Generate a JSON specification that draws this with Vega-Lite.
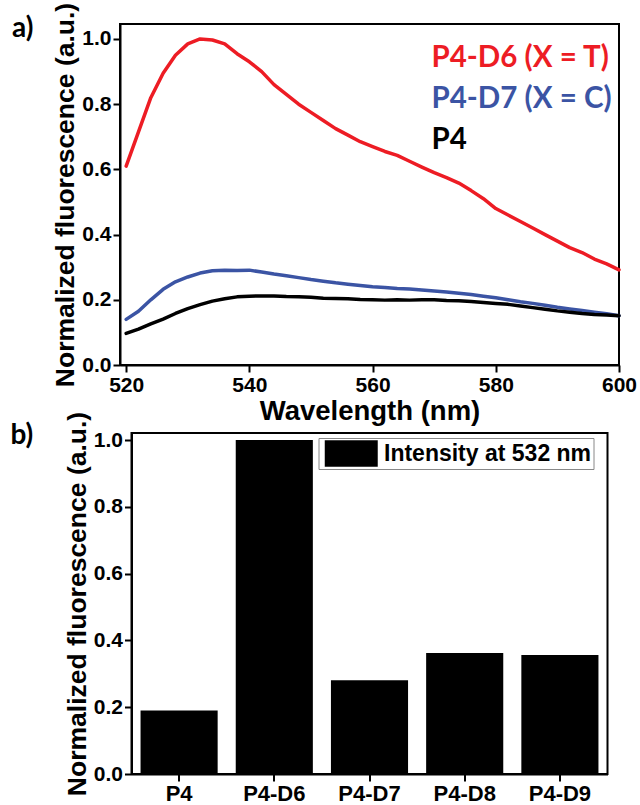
{
  "$schema": "https://vega.github.io/schema/vega-lite/v6.json",
  "padding": {"left": 9, "top": 1, "right": 5, "bottom": 0},
  "spacing": 68,
  "bounds": "flush",
  "center": true,
  "resolve": {"scale": {"color": "independent", "fill": "independent"}, "legend": {"color": "independent", "fill": "independent"}},
  "config": {
    "font": "Liberation Sans",
    "view": {"stroke": "black", "strokeWidth": 2},
    "axis": {
      "grid": false,
      "labelFont": "Liberation Sans",
      "labelFontSize": 21,
      "labelFontWeight": "bold",
      "labelColor": "black",
      "titleFont": "Liberation Sans",
      "titleFontSize": 26.5,
      "titleFontWeight": "bold",
      "titleColor": "black",
      "domainColor": "black",
      "domainWidth": 2,
      "tickColor": "black",
      "tickWidth": 2,
      "tickSize": 7,
      "labelPadding": 2
    }
  },
  "vconcat": [
    {
      "width": 499,
      "height": 341,
      "title": {"text": "a)", "anchor": "start", "frame": "group", "font": "Lato", "fontSize": 28, "fontWeight": "bold", "color": "black", "dx": -108, "offset": -63, "baseline": "alphabetic"},
      "data": {"values": [
        {"w": 520, "P4-D6 (X = T)": 0.61, "P4-D7 (X = C)": 0.14, "P4": 0.097},
        {"w": 522, "P4-D6 (X = T)": 0.715, "P4-D7 (X = C)": 0.165, "P4": 0.11},
        {"w": 524, "P4-D6 (X = T)": 0.82, "P4-D7 (X = C)": 0.2, "P4": 0.126},
        {"w": 526, "P4-D6 (X = T)": 0.895, "P4-D7 (X = C)": 0.232, "P4": 0.141},
        {"w": 528, "P4-D6 (X = T)": 0.95, "P4-D7 (X = C)": 0.255, "P4": 0.158},
        {"w": 530, "P4-D6 (X = T)": 0.985, "P4-D7 (X = C)": 0.27, "P4": 0.173},
        {"w": 532, "P4-D6 (X = T)": 1.0, "P4-D7 (X = C)": 0.282, "P4": 0.185},
        {"w": 534, "P4-D6 (X = T)": 0.997, "P4-D7 (X = C)": 0.289, "P4": 0.196},
        {"w": 536, "P4-D6 (X = T)": 0.985, "P4-D7 (X = C)": 0.291, "P4": 0.203},
        {"w": 538, "P4-D6 (X = T)": 0.955, "P4-D7 (X = C)": 0.29, "P4": 0.209},
        {"w": 540, "P4-D6 (X = T)": 0.93, "P4-D7 (X = C)": 0.291, "P4": 0.211},
        {"w": 542, "P4-D6 (X = T)": 0.9, "P4-D7 (X = C)": 0.285, "P4": 0.212},
        {"w": 544, "P4-D6 (X = T)": 0.86, "P4-D7 (X = C)": 0.279, "P4": 0.212},
        {"w": 546, "P4-D6 (X = T)": 0.83, "P4-D7 (X = C)": 0.274, "P4": 0.21},
        {"w": 548, "P4-D6 (X = T)": 0.8, "P4-D7 (X = C)": 0.268, "P4": 0.209},
        {"w": 550, "P4-D6 (X = T)": 0.775, "P4-D7 (X = C)": 0.262, "P4": 0.208},
        {"w": 552, "P4-D6 (X = T)": 0.75, "P4-D7 (X = C)": 0.257, "P4": 0.205},
        {"w": 554, "P4-D6 (X = T)": 0.725, "P4-D7 (X = C)": 0.252, "P4": 0.204},
        {"w": 556, "P4-D6 (X = T)": 0.705, "P4-D7 (X = C)": 0.248, "P4": 0.203},
        {"w": 558, "P4-D6 (X = T)": 0.685, "P4-D7 (X = C)": 0.244, "P4": 0.201},
        {"w": 560, "P4-D6 (X = T)": 0.67, "P4-D7 (X = C)": 0.24, "P4": 0.2},
        {"w": 562, "P4-D6 (X = T)": 0.655, "P4-D7 (X = C)": 0.238, "P4": 0.199},
        {"w": 564, "P4-D6 (X = T)": 0.643, "P4-D7 (X = C)": 0.235, "P4": 0.2},
        {"w": 566, "P4-D6 (X = T)": 0.625, "P4-D7 (X = C)": 0.233, "P4": 0.199},
        {"w": 568, "P4-D6 (X = T)": 0.607, "P4-D7 (X = C)": 0.23, "P4": 0.2},
        {"w": 570, "P4-D6 (X = T)": 0.59, "P4-D7 (X = C)": 0.227, "P4": 0.2},
        {"w": 572, "P4-D6 (X = T)": 0.575, "P4-D7 (X = C)": 0.224, "P4": 0.198},
        {"w": 574, "P4-D6 (X = T)": 0.558, "P4-D7 (X = C)": 0.22, "P4": 0.197},
        {"w": 576, "P4-D6 (X = T)": 0.535, "P4-D7 (X = C)": 0.216, "P4": 0.195},
        {"w": 578, "P4-D6 (X = T)": 0.51, "P4-D7 (X = C)": 0.211, "P4": 0.192},
        {"w": 580, "P4-D6 (X = T)": 0.48, "P4-D7 (X = C)": 0.206, "P4": 0.189},
        {"w": 582, "P4-D6 (X = T)": 0.46, "P4-D7 (X = C)": 0.2, "P4": 0.186},
        {"w": 584, "P4-D6 (X = T)": 0.44, "P4-D7 (X = C)": 0.194, "P4": 0.181},
        {"w": 586, "P4-D6 (X = T)": 0.42, "P4-D7 (X = C)": 0.189, "P4": 0.176},
        {"w": 588, "P4-D6 (X = T)": 0.4, "P4-D7 (X = C)": 0.183, "P4": 0.171},
        {"w": 590, "P4-D6 (X = T)": 0.38, "P4-D7 (X = C)": 0.177, "P4": 0.166},
        {"w": 592, "P4-D6 (X = T)": 0.36, "P4-D7 (X = C)": 0.172, "P4": 0.162},
        {"w": 594, "P4-D6 (X = T)": 0.345, "P4-D7 (X = C)": 0.167, "P4": 0.158},
        {"w": 596, "P4-D6 (X = T)": 0.325, "P4-D7 (X = C)": 0.162, "P4": 0.155},
        {"w": 598, "P4-D6 (X = T)": 0.31, "P4-D7 (X = C)": 0.157, "P4": 0.153},
        {"w": 600, "P4-D6 (X = T)": 0.292, "P4-D7 (X = C)": 0.151, "P4": 0.151}
      ]},
      "transform": [{"fold": ["P4-D6 (X = T)", "P4-D7 (X = C)", "P4"], "as": ["series", "v"]}],
      "mark": {"type": "line", "strokeWidth": 3.5, "strokeCap": "round", "strokeJoin": "round"},
      "encoding": {
        "x": {"field": "w", "type": "quantitative", "scale": {"domain": [519, 600], "nice": false, "zero": false},
              "axis": {"values": [520, 540, 560, 580, 600], "title": "Wavelength (nm)", "titleFontSize": 27.5, "titlePadding": 2, "labelFlush": false}},
        "y": {"field": "v", "type": "quantitative", "scale": {"domain": [0, 1.046], "nice": false},
              "axis": {"values": [0, 0.2, 0.4, 0.6, 0.8, 1.0], "format": ".1f", "title": "Normalized fluorescence (a.u.)", "titlePadding": 2}},
        "color": {"field": "series", "type": "nominal",
                  "scale": {"domain": ["P4-D6 (X = T)", "P4-D7 (X = C)", "P4"], "range": ["#ed1c24", "#3b54a4", "#000000"]},
                  "legend": {"title": null, "orient": "none", "legendX": 282, "legendY": 19, "padding": 0,
                             "symbolSize": 0, "symbolOpacity": 0, "symbolStrokeWidth": 0, "labelOffset": 0, "labelLimit": 400,
                             "labelFont": "Lato", "labelFontSize": 29.5, "labelFontWeight": "bold", "rowPadding": 10,
                             "encode": {"labels": {"update": {"fill": [
                               {"test": "datum.value === 'P4-D6 (X = T)'", "value": "#ed1c24"},
                               {"test": "datum.value === 'P4-D7 (X = C)'", "value": "#3b54a4"},
                               {"value": "#000000"}]}}}}}
      }
    },
    {
      "width": 476,
      "height": 341,
      "title": {"text": "b)", "anchor": "start", "frame": "group", "font": "Lato", "fontSize": 28, "fontWeight": "bold", "color": "black", "dx": -121, "offset": -61, "baseline": "alphabetic"},
      "data": {"values": [
        {"name": "P4", "value": 0.19},
        {"name": "P4-D6", "value": 1.0},
        {"name": "P4-D7", "value": 0.281},
        {"name": "P4-D8", "value": 0.362},
        {"name": "P4-D9", "value": 0.356}
      ]},
      "mark": {"type": "bar", "color": "black"},
      "encoding": {
        "x": {"field": "name", "type": "nominal", "sort": null, "scale": {"paddingInner": 0.19, "paddingOuter": 0.095},
              "axis": {"labelAngle": 0, "title": null, "labelFontSize": 22}},
        "y": {"field": "value", "type": "quantitative", "scale": {"domain": [0, 1.021], "nice": false},
              "axis": {"values": [0, 0.2, 0.4, 0.6, 0.8, 1.0], "format": ".1f", "title": "Normalized fluorescence (a.u.)", "titlePadding": 2}},
        "fill": {"datum": "Intensity at 532 nm", "type": "nominal", "scale": {"range": ["#000000"]},
                 "legend": {"title": null, "orient": "none", "legendX": 187, "legendY": 5, "padding": 2,
                            "strokeColor": "#888888", "symbolType": "M-2,-1H2V1H-2Z", "symbolSize": 702,
                            "symbolOffset": 17.25, "symbolStrokeWidth": 0, "labelOffset": 19.25,
                            "labelFont": "Liberation Sans", "labelLimit": 400,
                            "labelFontSize": 23, "labelFontWeight": "bold", "labelColor": "black"}}
      }
    }
  ]
}
